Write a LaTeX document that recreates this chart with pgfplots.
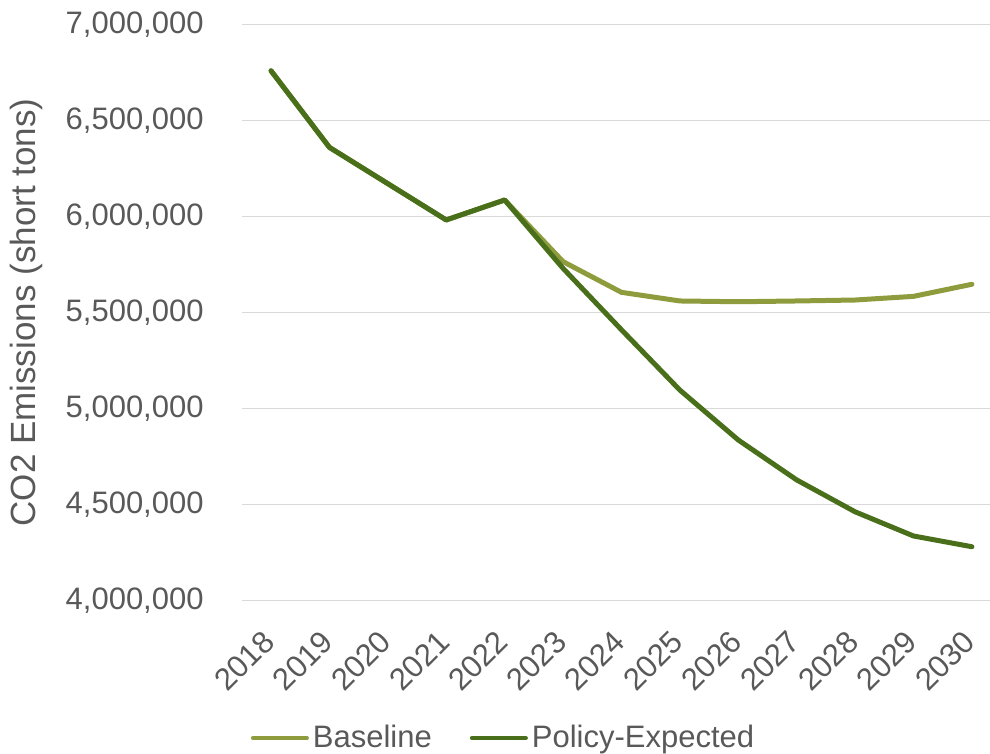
\documentclass[border=0pt]{standalone}
\usepackage{fontspec}
\setmainfont{Liberation Sans}
\usepackage{pgfplots}
\pgfplotsset{compat=1.18}

\definecolor{cBase}{HTML}{8E9C3D}
\definecolor{cPolicy}{HTML}{4A6F1B}
\definecolor{textgray}{HTML}{595959}
\definecolor{gridgray}{HTML}{D9D9D9}

\begin{document}
\begin{tikzpicture}
\begin{axis}[
    scale only axis,
    width=374pt, height=288pt,
    xmin=-0.497, xmax=12.31,
    ymin=4000000, ymax=7000000,
    ytick={4000000,4500000,5000000,5500000,6000000,6500000,7000000},
    xtick=data,
    xticklabels={2018,2019,2020,2021,2022,2023,2024,2025,2026,2027,2028,2029,2030},
    scaled y ticks=false,
    /pgf/number format/.cd, fixed, 1000 sep={,}, assume math mode=true,
    /pgfplots/.cd,
    axis line style={draw=none},
    tick style={draw=none},
    major tick length=0pt,
    ymajorgrids,
    grid style={gridgray, line width=0.8pt},
    ticklabel style={font=\fontsize{15.5}{18}\selectfont, text=textgray},
    yticklabel style={anchor=east, inner sep=0pt, xshift=-19pt},
    xticklabel style={xshift=-1pt, yshift=-17.75pt, rotate=45, anchor=east, inner sep=0pt},
    ylabel={CO2 Emissions (short tons)},
    ylabel style={at={(axis description cs:-0.2881,0.5)}, anchor=center,
        font=\fontsize{17.5}{20}\selectfont, text=textgray},
    legend style={at={(axis description cs:0.351,-0.2387)}, anchor=center,
        draw=none, fill=none, font=\fontsize{15.5}{18}\selectfont, text=textgray,
        legend columns=2,
        /tikz/every even column/.append style={column sep=17pt}},
    legend cell align=left,
    legend image code/.code={\draw[#1, line width=2pt, line cap=round] (0pt,0pt) -- (27pt,0pt);},
]

\addplot[cBase, line width=2.5pt, line join=round, line cap=round] coordinates {
    (0, 6759000) (1, 6360000) (2, 6171000) (3, 5982000) (4, 6086000)
    (5, 5765000) (6, 5605000) (7, 5560000) (8, 5556000) (9, 5560000)
    (10, 5565000) (11, 5584000) (12, 5647000)
};
\addlegendentry{Baseline}

\addplot[cPolicy, line width=2.5pt, line join=round, line cap=round] coordinates {
    (0, 6759000) (1, 6360000) (2, 6171000) (3, 5982000) (4, 6086000)
    (5, 5730000) (6, 5410000) (7, 5096000) (8, 4836000) (9, 4628000)
    (10, 4462000) (11, 4336000) (12, 4280000)
};
\addlegendentry{Policy-Expected}

\end{axis}
\pgfresetboundingbox
\path[use as bounding box] (-121pt,-76.75pt) rectangle (374pt,300.25pt);
\end{tikzpicture}
\end{document}
